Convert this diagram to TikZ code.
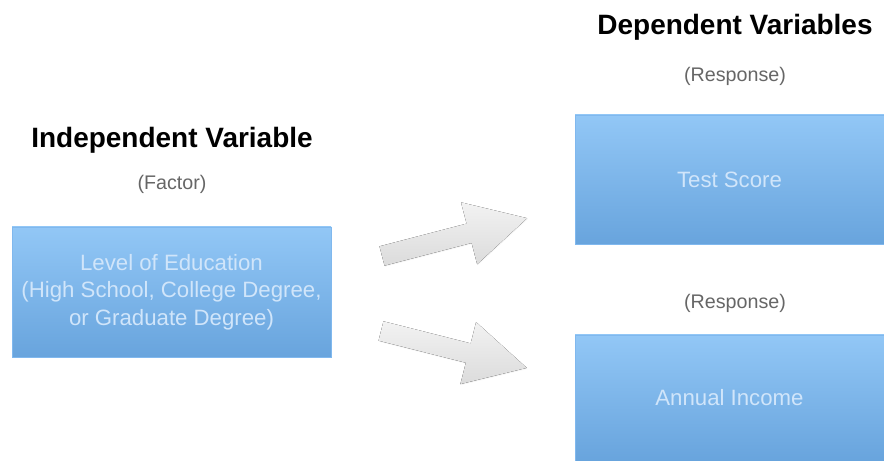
\documentclass[tikz,border=0pt]{standalone}
\usepackage{fontspec}
\setmainfont{Liberation Sans}
\usetikzlibrary{positioning, calc, shadows}

\begin{document}
\begin{tikzpicture}[
	titolo/.style={font=\fontsize{19.9}{23}\selectfont\bfseries, text=black, anchor=base},
	sottotitolo/.style={font=\fontsize{14}{16}\selectfont, text=black!60, anchor=base},
	scatola/.style={rectangle, inner sep=0pt, top color=boxtop, bottom color=boxbot,
		draw=boxedge, line width=0.4pt, text=boxtext, align=center,
		font=\fontsize{15.8}{19.5}\selectfont},
	freccia/.style={top color=gray!10, bottom color=gray!28, draw=none,
		drop shadow={opacity=0.07, shadow xshift=0.4pt, shadow yshift=-0.8pt}}
	]
	
	% Definizione dei colori
	\definecolor{boxtop}{RGB}{146,199,246}
	\definecolor{boxbot}{RGB}{104,164,221}
	\definecolor{boxedge}{RGB}{128,184,238}
	\definecolor{boxtext}{RGB}{208,229,250}
	
	\useasboundingbox (0,0) rectangle (22.1,11.525);
	
	% Variabile indipendente
	\node[titolo] (indtit) at (4.3,7.825) {Independent Variable};
	\node[sottotitolo] (fattore) at (4.3,6.775) {(Factor)};
	\node[scatola, minimum width=7.975cm, minimum height=3.25cm] (istruzione) at (4.2875,4.225)
		{Level of Education\\(High School, College Degree,\\or Graduate Degree)};
	
	% Variabili dipendenti
	\node[titolo] (diptit) at (18.375,10.65) {Dependent Variables};
	\node[sottotitolo] (risp1) at (18.375,9.475) {(Response)};
	\node[scatola, minimum width=7.725cm, minimum height=3.225cm] (punteggio) at (18.2375,7.0375) {Test Score};
	\node[sottotitolo] (risp2) at (18.375,3.8) {(Response)};
	\node[scatola, minimum width=7.725cm, minimum height=3.15cm] (reddito) at (18.2375,1.575) {Annual Income};
	
	% Frecce
	\coordinate (coda1) at (9.55,5.125);
	\coordinate (coda2) at (9.525,3.25);
	\begin{scope}[shift={(coda1)}, rotate=14.6]
		\fill[freccia] (0,-0.25) -- (2.25,-0.25) -- (2.25,-0.8) -- (3.75,0) -- (2.25,0.8) -- (2.25,0.25) -- (0,0.25) -- cycle;
	\end{scope}
	\begin{scope}[shift={(coda2)}, rotate=-14.2]
		\fill[freccia] (0,-0.25) -- (2.25,-0.25) -- (2.25,-0.8) -- (3.76,0) -- (2.25,0.8) -- (2.25,0.25) -- (0,0.25) -- cycle;
	\end{scope}
	
\end{tikzpicture}
\end{document}
